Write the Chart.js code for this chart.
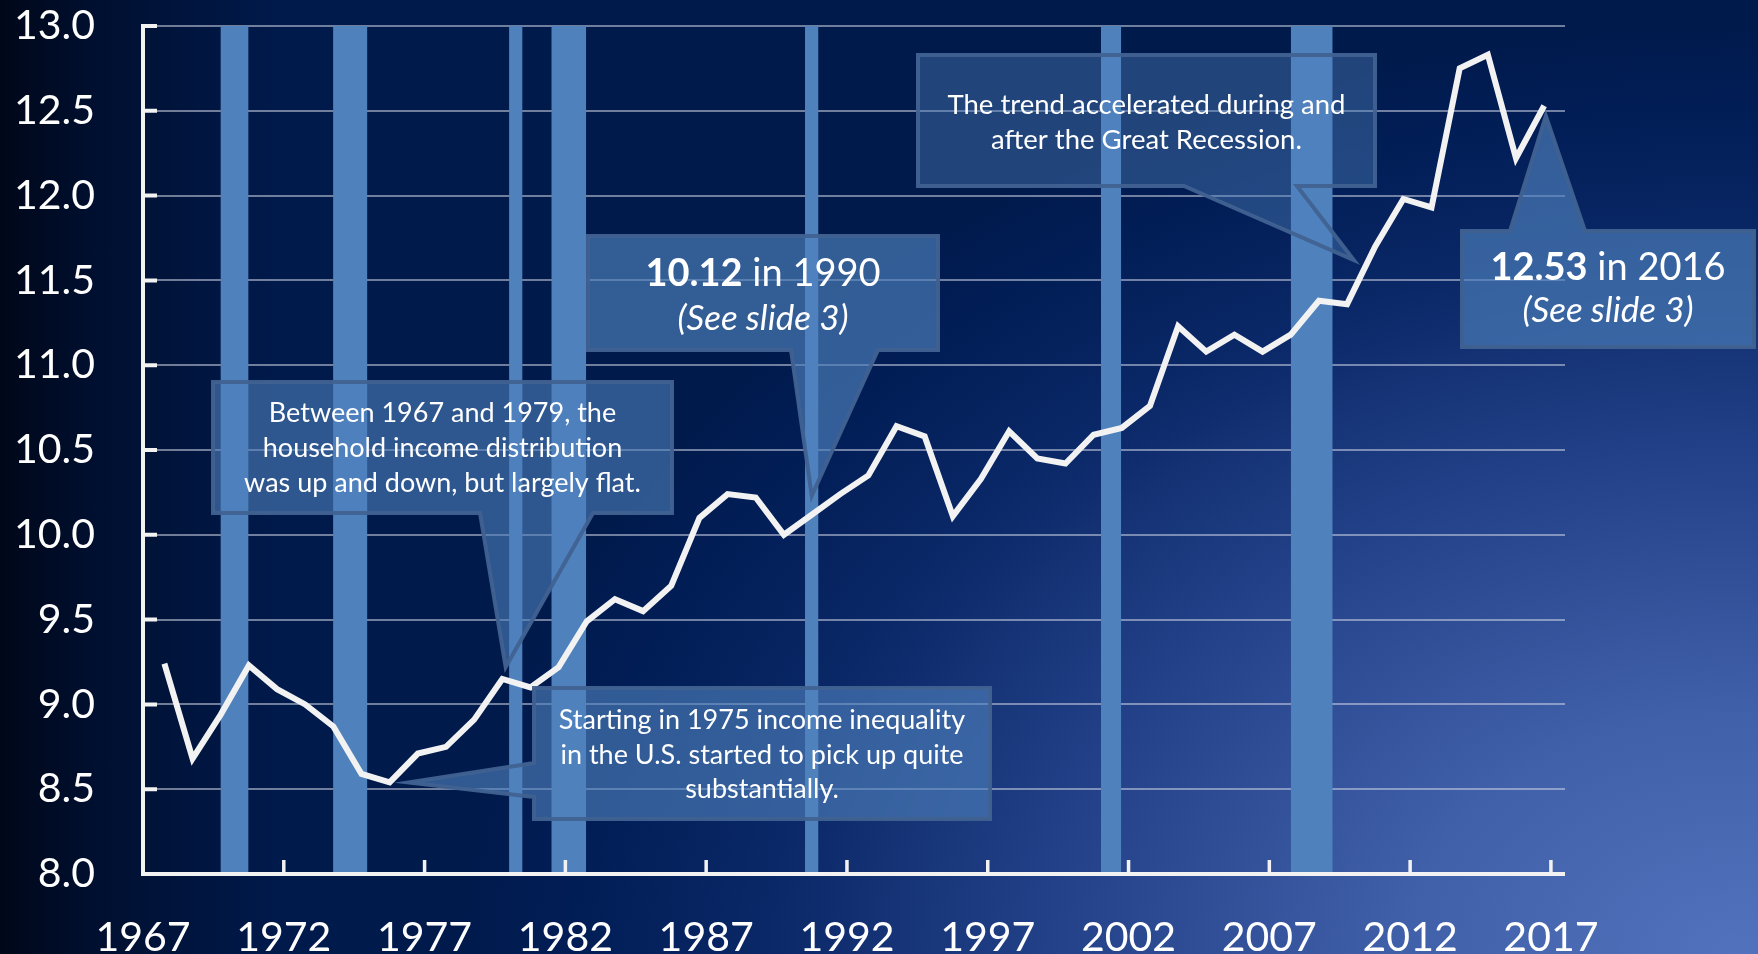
<!DOCTYPE html>
<html>
<head>
<meta charset="utf-8">
<title>Household income inequality 1967-2016</title>
<script src="https://cdn.jsdelivr.net/npm/chart.js@4.4.1/dist/chart.umd.min.js"></script>
<style>
  html, body { margin: 0; padding: 0; }
  body {
    width: 1758px;
    height: 954px;
    overflow: hidden;
    background:
      linear-gradient(to right, rgba(0,6,22,0.95) 0%, rgba(0,6,22,0.55) 5%, rgba(0,6,22,0) 16%),
      radial-gradient(ellipse 1280px 930px at 1740px 954px, #5272bd 0%, #4060a9 26%, #25438b 52%, #0a2867 76%, #021e57 90%, #001a4c 100%);
  }
  canvas { display: block; }
</style>
</head>
<body>
<canvas id="incomeChart" width="1758" height="954"></canvas>
<script>
const years = [1967, 1968, 1969, 1970, 1971, 1972, 1973, 1974, 1975, 1976,
               1977, 1978, 1979, 1980, 1981, 1982, 1983, 1984, 1985, 1986,
               1987, 1988, 1989, 1990, 1991, 1992, 1993, 1994, 1995, 1996,
               1997, 1998, 1999, 2000, 2001, 2002, 2003, 2004, 2005, 2006,
               2007, 2008, 2009, 2010, 2011, 2012, 2013, 2014, 2015, 2016];
const ratio = [9.24, 8.68, 8.94, 9.23, 9.09, 9.00, 8.87, 8.59, 8.54, 8.71,
               8.75, 8.91, 9.15, 9.10, 9.22, 9.49, 9.62, 9.55, 9.70, 10.10,
               10.24, 10.22, 10.00, 10.12, 10.24, 10.35, 10.64, 10.58, 10.11, 10.33,
               10.61, 10.45, 10.42, 10.59, 10.63, 10.76, 11.23, 11.08, 11.18, 11.08,
               11.18, 11.38, 11.36, 11.70, 11.98, 11.93, 12.75, 12.83, 12.22, 12.53];

// recession periods (decimal years)
const recessionStart = [1969.75, 1973.75, 1980.00, 1981.50, 1990.51, 2001.02, 2007.76];
const recessionEnd   = [1970.75, 1974.97, 1980.48, 1982.74, 1990.99, 2001.74, 2009.25];

const xTickLabels = [1967, 1972, 1977, 1982, 1987, 1992, 1997, 2002, 2007, 2012, 2017];
const yMin = 8, yMax = 13, yStep = 0.5;

// annual values sit late in each year on the date axis
const POINT_SHIFT = 0.76;

const FONT = 'Lato, "Open Sans", sans-serif';

const callouts = [
    {
        box: [213, 382, 459, 131], side: 'bottom', base: [480, 593], tip: [1979.88, 9.22], alpha: 0.6,
        lines: [
            { y: 422, parts: [['Between 1967 and 1979, the', '27px ' + FONT]] },
            { y: 457, parts: [['household income distribution', '27px ' + FONT]] },
            { y: 492, parts: [['was up and down, but largely flat.', '27px ' + FONT]] }
        ]
    },
    {
        box: [588, 236, 350, 114], side: 'bottom', base: [791, 878], tip: [1990.75, 10.23], alpha: 0.65,
        lines: [
            { y: 286, parts: [['10.12', 'bold 38px ' + FONT], [' in 1990', '38px ' + FONT]] },
            { y: 330, parts: [['(See slide 3)', 'italic 35px ' + FONT]] }
        ]
    },
    {
        box: [534, 688, 456, 131], side: 'left', base: [763, 797], tip: [1976.43, 8.54], alpha: 0.62,
        lines: [
            { y: 729, parts: [['Starting in 1975 income inequality', '27px ' + FONT]] },
            { y: 764, parts: [['in the U.S. started to pick up quite', '27px ' + FONT]] },
            { y: 798, parts: [['substantially.', '27px ' + FONT]] }
        ]
    },
    {
        box: [918, 55, 457, 131], side: 'bottom', base: [1184, 1297], tip: [2010.0, 11.62], alpha: 0.42,
        lines: [
            { y: 114, parts: [['The trend accelerated during and', '27.5px ' + FONT]] },
            { y: 149, parts: [['after the Great Recession.', '27.5px ' + FONT]] }
        ]
    },
    {
        box: [1462, 231, 292, 116], side: 'top', base: [1510, 1585], tip: [2016.82, 12.47], alpha: 0.65,
        lines: [
            { y: 280, parts: [['12.53', 'bold 38px ' + FONT], [' in 2016', '38px ' + FONT]] },
            { y: 322, parts: [['(See slide 3)', 'italic 35px ' + FONT]] }
        ]
    }
];

const axisOverlay = {
    id: 'axisOverlay',
    afterDatasetsDraw(chart) {
        const { ctx, chartArea: a, scales: { x, y } } = chart;
        ctx.save();
        ctx.strokeStyle = '#f2f2f2';
        ctx.lineCap = 'butt';
        ctx.lineWidth = 4;
        ctx.beginPath();
        ctx.moveTo(a.left, a.top - 2);
        ctx.lineTo(a.left, a.bottom + 2);
        ctx.moveTo(a.left - 2, a.bottom);
        ctx.lineTo(a.right, a.bottom);
        y.ticks.forEach(t => {
            const py = y.getPixelForValue(t.value);
            ctx.moveTo(a.left, py);
            ctx.lineTo(a.left + 14, py);
        });
        ctx.stroke();
        ctx.lineWidth = 3.5;
        ctx.beginPath();
        x.ticks.forEach(t => {
            const px = x.getPixelForValue(t.value);
            ctx.moveTo(px, a.bottom);
            ctx.lineTo(px, a.bottom - 14);
        });
        ctx.stroke();
        ctx.restore();
    }
};

function calloutPath(ctx, c, tx, ty) {
    const [x, y, w, h] = c.box;
    const [a, b] = c.base;
    ctx.beginPath();
    if (c.side === 'bottom') {
        ctx.moveTo(x, y);
        ctx.lineTo(x + w, y);
        ctx.lineTo(x + w, y + h);
        ctx.lineTo(b, y + h);
        ctx.lineTo(tx, ty);
        ctx.lineTo(a, y + h);
        ctx.lineTo(x, y + h);
    } else if (c.side === 'top') {
        ctx.moveTo(x, y);
        ctx.lineTo(a, y);
        ctx.lineTo(tx, ty);
        ctx.lineTo(b, y);
        ctx.lineTo(x + w, y);
        ctx.lineTo(x + w, y + h);
        ctx.lineTo(x, y + h);
    } else {
        ctx.moveTo(x, y);
        ctx.lineTo(x + w, y);
        ctx.lineTo(x + w, y + h);
        ctx.lineTo(x, y + h);
        ctx.lineTo(x, b);
        ctx.lineTo(tx, ty);
        ctx.lineTo(x, a);
    }
    ctx.closePath();
}

const calloutPlugin = {
    id: 'callouts',
    afterDraw(chart) {
        const { ctx, scales: { x, y } } = chart;
        ctx.save();
        callouts.forEach(c => {
            const tx = x.getPixelForValue(c.tip[0]);
            const ty = y.getPixelForValue(c.tip[1]);
            calloutPath(ctx, c, tx, ty);
            ctx.fillStyle = 'rgba(79,129,189,' + c.alpha + ')';
            ctx.fill();
            ctx.lineWidth = 4;
            ctx.lineJoin = 'miter';
            ctx.strokeStyle = 'rgba(64,98,145,0.95)';
            ctx.stroke();

            const cx = c.box[0] + c.box[2] / 2;
            ctx.fillStyle = '#ffffff';
            ctx.textBaseline = 'alphabetic';
            ctx.textAlign = 'left';
            c.lines.forEach(line => {
                let total = 0;
                line.parts.forEach(p => { ctx.font = p[1]; total += ctx.measureText(p[0]).width; });
                let px = cx - total / 2;
                line.parts.forEach(p => {
                    ctx.font = p[1];
                    ctx.fillText(p[0], px, line.y);
                    px += ctx.measureText(p[0]).width;
                });
            });
        });
        ctx.restore();
    }
};

const recessionSets = recessionStart.map((s, i) => ({
    data: [{ x: s, y: yMax }, { x: recessionEnd[i], y: yMax }],
    borderWidth: 0,
    borderColor: 'rgba(0,0,0,0)',
    backgroundColor: '#4f81bd',
    pointRadius: 0,
    fill: 'start',
    order: 2
}));

const ctx = document.getElementById('incomeChart').getContext('2d');
new Chart(ctx, {
    type: 'line',
    data: {
        datasets: [{
            label: 'Income ratio',
            data: years.map((yr, i) => ({ x: yr + POINT_SHIFT, y: ratio[i] })),
            borderColor: '#f2f2f2',
            borderWidth: 6,
            borderJoinStyle: 'miter',
            pointRadius: 0,
            tension: 0,
            fill: false,
            order: 0
        }, ...recessionSets]
    },
    options: {
        responsive: false,
        animation: false,
        devicePixelRatio: 1,
        layout: { padding: { top: 26, right: 193, bottom: 0, left: 0 } },
        plugins: {
            legend: { display: false },
            tooltip: { enabled: false }
        },
        scales: {
            x: {
                type: 'linear',
                min: 1967,
                max: 2017.5,
                grid: { display: false },
                border: { display: false },
                afterBuildTicks: scale => { scale.ticks = xTickLabels.map(v => ({ value: v })); },
                afterFit: scale => { scale.height = 80; },
                ticks: {
                    autoSkip: false,
                    maxRotation: 0,
                    padding: 31,
                    color: '#ffffff',
                    font: { family: FONT, size: 41 },
                    callback: v => String(v)
                }
            },
            y: {
                min: yMin,
                max: yMax,
                grid: {
                    color: 'rgba(205,212,228,0.55)',
                    lineWidth: 2,
                    drawTicks: false
                },
                border: { display: false },
                afterFit: scale => {
                    scale.width = 143;
                    scale.paddingTop = 0;
                    scale.paddingBottom = 0;
                },
                ticks: {
                    stepSize: yStep,
                    padding: 48,
                    color: '#ffffff',
                    font: { family: FONT, size: 41 },
                    callback: v => v.toFixed(1)
                }
            }
        }
    },
    plugins: [axisOverlay, calloutPlugin]
});
</script>
</body>
</html>
